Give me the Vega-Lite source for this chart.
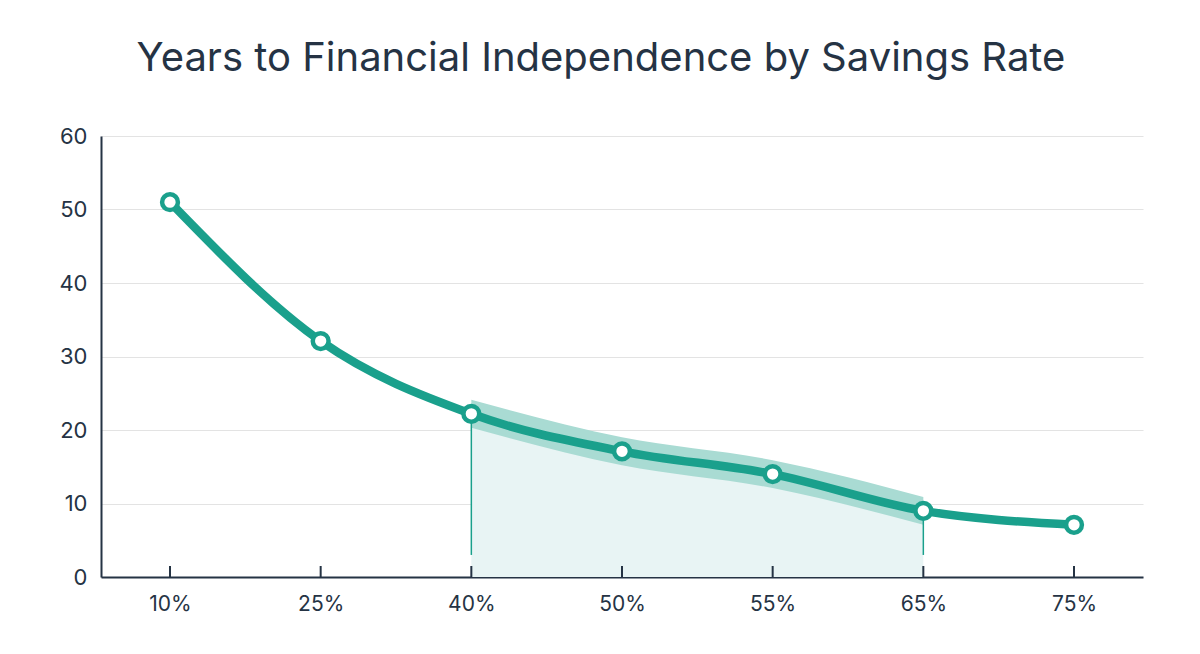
{
  "$schema": "https://vega.github.io/schema/vega-lite/v6.json",
  "autosize": "none",
  "width": 1042,
  "height": 441,
  "padding": {"left": 101, "top": 136, "right": 57, "bottom": 77},
  "background": "white",
  "title": {
    "text": "Years to Financial Independence by Savings Rate",
    "font": "Inter",
    "fontSize": 40,
    "fontWeight": 400,
    "color": "#253344",
    "anchor": "middle",
    "dx": -21,
    "offset": 46
  },
  "config": {
    "view": {"stroke": null},
    "axis": {"labelFont": "Inter", "labelColor": "#253344", "titleFont": "Inter"}
  },
  "data": {
    "values": [
      {"rate": "10%", "years": 51, "lo": null, "hi": null, "zone": "no"},
      {"rate": "25%", "years": 32.1, "lo": null, "hi": null, "zone": "no"},
      {"rate": "40%", "years": 22.2, "lo": 20.3, "hi": 24.1, "zone": "yes"},
      {"rate": "50%", "years": 17.1, "lo": 15.2, "hi": 19.0, "zone": "yes"},
      {"rate": "55%", "years": 14.0, "lo": 12.1, "hi": 15.9, "zone": "yes"},
      {"rate": "65%", "years": 9.0, "lo": 7.1, "hi": 10.9, "zone": "yes"},
      {"rate": "75%", "years": 7.1, "lo": null, "hi": null, "zone": "no"}
    ]
  },
  "encoding": {
    "x": {
      "field": "rate",
      "type": "ordinal",
      "sort": ["10%", "25%", "40%", "50%", "55%", "65%", "75%"],
      "scale": {"type": "point", "padding": 0.458},
      "axis": {
        "title": null,
        "labelAngle": 0,
        "labelFontSize": 21,
        "labelPadding": 16,
        "ticks": false,
        "domainColor": "#253344",
        "domainWidth": 2,
        "grid": false
      }
    },
    "y": {
      "field": "years",
      "type": "quantitative",
      "scale": {"domain": [0, 60], "nice": false, "zero": true},
      "axis": {
        "title": null,
        "values": [0, 10, 20, 30, 40, 50, 60],
        "labelFontSize": 22,
        "labelPadding": 14,
        "ticks": false,
        "domainColor": "#253344",
        "domainWidth": 2,
        "grid": true,
        "gridColor": "#e3e3e3",
        "gridWidth": 1.2
      }
    }
  },
  "layer": [
    {
      "transform": [{"filter": "datum.zone === 'yes'"}],
      "mark": {"type": "area", "interpolate": "monotone", "color": "#e8f4f4"},
      "encoding": {"y2": {"datum": 0}}
    },
    {
      "transform": [{"filter": "datum.zone === 'yes'"}],
      "mark": {"type": "area", "interpolate": "monotone", "color": "#a9dbd3"},
      "encoding": {"y": {"field": "lo", "type": "quantitative"}, "y2": {"field": "hi"}}
    },
    {
      "mark": {"type": "rule", "color": "#253344", "strokeWidth": 2},
      "encoding": {"y": {"datum": 0}, "y2": {"datum": 1.5}}
    },
    {
      "transform": [{"filter": "datum.rate === '40%' || datum.rate === '65%'"}],
      "mark": {"type": "rule", "color": "#1aa08c", "strokeWidth": 1.5},
      "encoding": {"y2": {"datum": 3}}
    },
    {
      "mark": {"type": "line", "interpolate": "monotone", "color": "#1aa08c", "strokeWidth": 8.5, "strokeCap": "round"},
      "encoding": {}
    },
    {
      "mark": {"type": "point", "filled": true, "fill": "white", "stroke": "#1aa08c", "strokeWidth": 4.5, "size": 250, "opacity": 1},
      "encoding": {}
    }
  ]
}
